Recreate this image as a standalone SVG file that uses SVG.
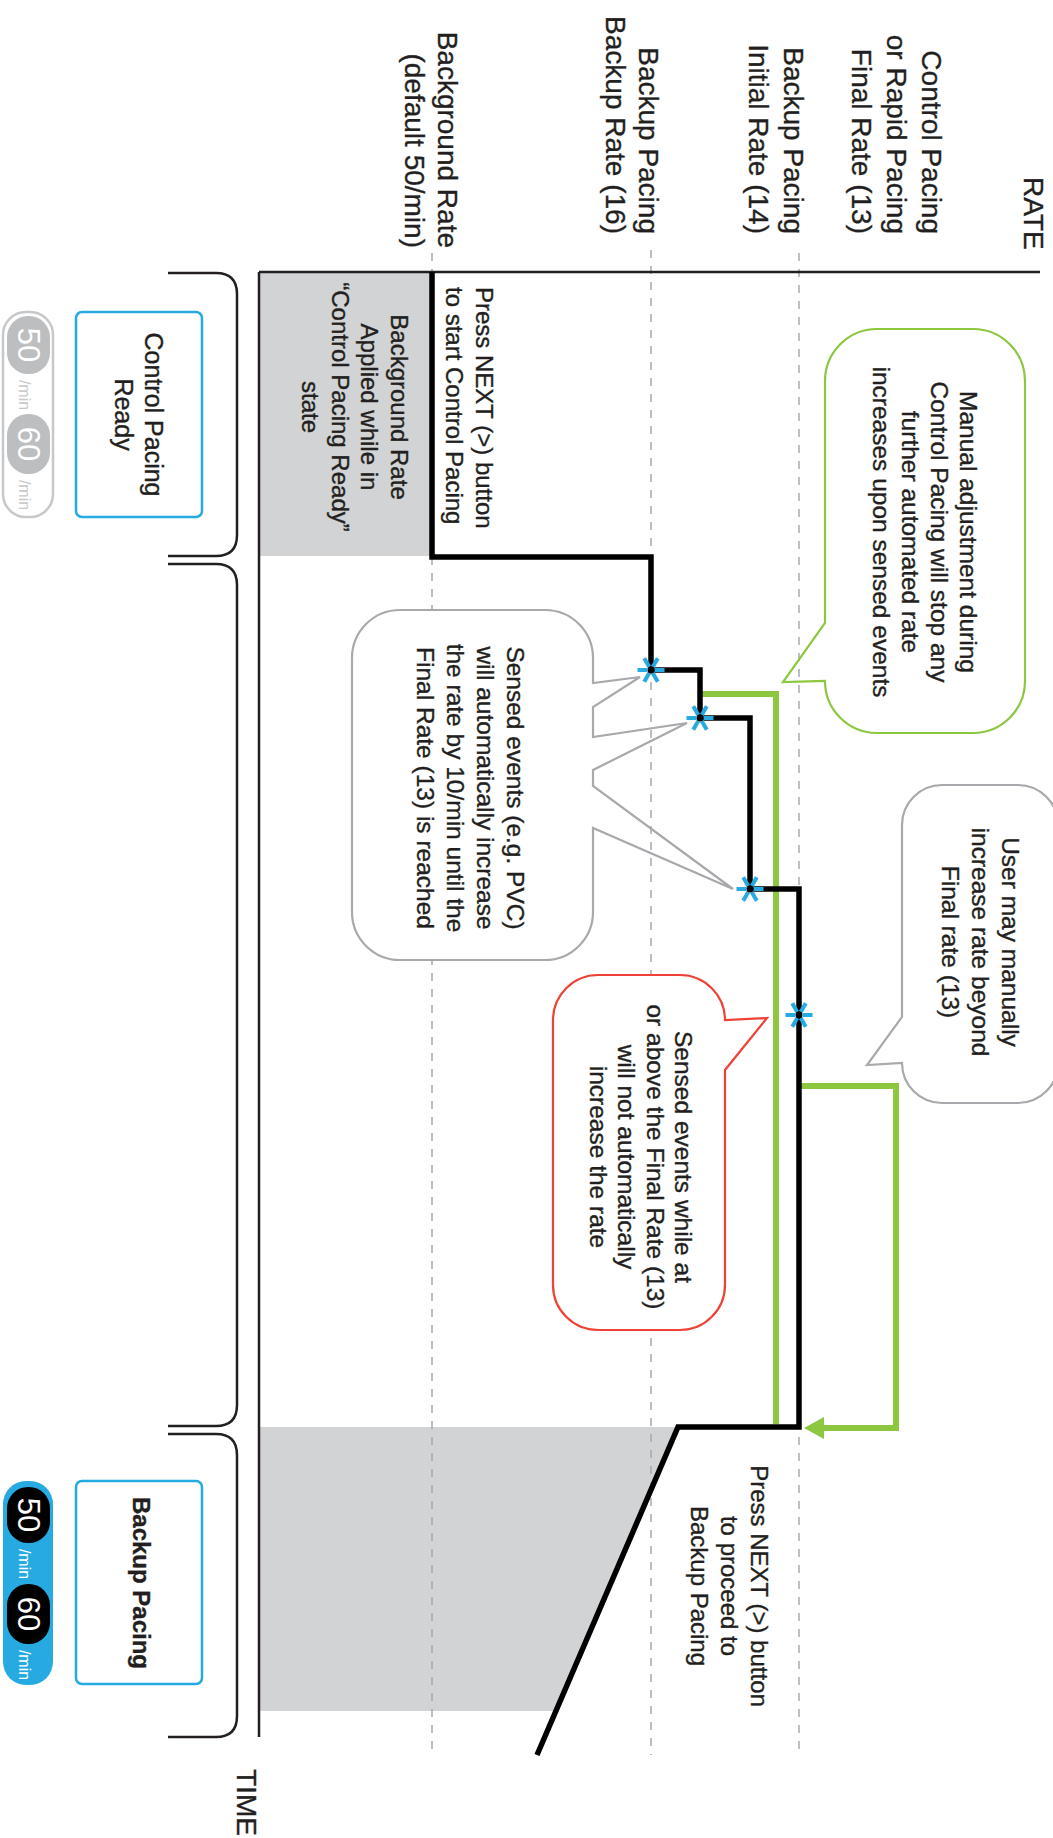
<svg xmlns="http://www.w3.org/2000/svg" width="1053" height="1838" viewBox="0 0 1053 1838">
<style>
text{font-family:"Liberation Sans",Arial,Helvetica,sans-serif;fill:#231f20;stroke:#231f20;stroke-width:0.35}
.lbl{font-size:28px;text-anchor:end}
.ax{font-size:28px}
.bt{font-size:24.5px;text-anchor:middle}
.nt{font-size:24px}
.ntc{font-size:24px;text-anchor:middle}
.box{fill:#fff;stroke:#27aae1;stroke-width:2.5}
.bx{font-size:25px;text-anchor:middle}
.dash{stroke:#a7a9ac;stroke-width:1.5;stroke-dasharray:8 8;fill:none}
.axis{stroke:#231f20;stroke-width:2.5;fill:none}
.brace{stroke:#231f20;stroke-width:2.5;fill:none}
.shade{fill:#d1d3d4}
.rate{stroke:#000;stroke-width:5.5;fill:none;stroke-linejoin:miter}
.grn{stroke:#8dc63f;stroke-width:6;fill:none}
.bfill{fill:#fff}
.dig{font-size:31px;text-anchor:middle;fill:#fff;stroke:none}
.min{font-size:16px;text-anchor:middle;stroke:none}
</style>
<defs>
<g id="star">
<g stroke="#27aae1" stroke-width="4">
<line x1="3.5" y1="0" x2="13.5" y2="0"/>
<line x1="-3.5" y1="0" x2="-13.5" y2="0"/>
<line x1="1.75" y1="3.03" x2="6.75" y2="11.7"/>
<line x1="-1.75" y1="3.03" x2="-6.75" y2="11.7"/>
<line x1="1.75" y1="-3.03" x2="6.75" y2="-11.7"/>
<line x1="-1.75" y1="-3.03" x2="-6.75" y2="-11.7"/>
</g>
<circle r="3.4" fill="#000"/>
</g>
</defs>

<!-- shaded regions -->
<g id="shade-ready"><rect class="shade" x="259" y="273" width="173" height="283"/></g>
<g id="shade-backup"><polygon class="shade" points="259,1427 678,1427 556,1711 259,1711"/></g>

<!-- rate reference dashed lines -->
<g id="gridlines">
<line class="dash" x1="432" y1="253" x2="432" y2="1755"/>
<line class="dash" x1="651" y1="250" x2="651" y2="1755"/>
<line class="dash" x1="799" y1="253" x2="799" y2="1755"/>
</g>

<!-- axes -->
<g id="axes">
<line class="axis" x1="259" y1="272" x2="1040" y2="272"/>
<line class="axis" x1="259" y1="272" x2="259" y2="1737"/>
<g transform="translate(1024,177) rotate(90)"><text class="ax" x="0" y="0">RATE</text></g>
<g transform="translate(237,1769) rotate(90)"><text class="ax" x="0" y="0">TIME</text></g>
</g>

<!-- rate labels -->
<g id="label-final" transform="translate(922,234) rotate(90)">
<text class="lbl" x="0" y="0">Control Pacing</text>
<text class="lbl" x="0" y="35">or Rapid Pacing</text>
<text class="lbl" x="0" y="70">Final Rate (13)</text>
</g>
<g id="label-initial" transform="translate(784,234) rotate(90)">
<text class="lbl" x="0" y="0">Backup Pacing</text>
<text class="lbl" x="0" y="35">Initial Rate (14)</text>
</g>
<g id="label-backup" transform="translate(639,234) rotate(90)">
<text class="lbl" x="0" y="0">Backup Pacing</text>
<text class="lbl" x="0" y="33">Backup Rate (16)</text>
</g>
<g id="label-background" transform="translate(438,248) rotate(90)">
<text class="lbl" x="0" y="0">Background Rate</text>
<text class="lbl" x="0" y="33">(default 50/min)</text>
</g>

<!-- braces -->
<g id="braces">
<path class="brace" d="M168 273 H216 Q237 273 237 294 V535 Q237 556 216 556 H168"/>
<path class="brace" d="M168 564 H216 Q237 564 237 585 V1405 Q237 1426 216 1426 H168"/>
<path class="brace" d="M168 1434 H216 Q237 1434 237 1455 V1716 Q237 1737 216 1737 H168"/>
</g>

<!-- state boxes -->
<g id="state-ready">
<rect class="box" x="76" y="312" width="126" height="205" rx="6"/>
<g transform="translate(145,414.5) rotate(90)">
<text class="bx" x="0" y="0">Control Pacing</text>
<text class="bx" x="0" y="30">Ready</text>
</g>
</g>
<g id="state-backup">
<rect class="box" x="76" y="1481" width="126" height="203" rx="6"/>
<g transform="translate(133,1583) rotate(90)">
<text class="bx" x="0" y="0" style="font-weight:bold;font-size:24px">Backup Pacing</text>
</g>
</g>

<!-- rate pills -->
<g id="pill-ready">
<rect x="3" y="312" width="50" height="205" rx="23" fill="#fff" stroke="#c7c8ca" stroke-width="2.5"/>
<rect x="7" y="316" width="43" height="58" rx="21" fill="#bcbec0"/>
<rect x="7" y="414" width="43" height="60" rx="21" fill="#bcbec0"/>
<g transform="translate(28.5,345) rotate(90)"><text class="dig" x="0" y="11">50</text></g>
<g transform="translate(28.5,444) rotate(90)"><text class="dig" x="0" y="11">60</text></g>
<g transform="translate(19,395) rotate(90)"><text class="min" x="0" y="0" style="fill:#c7c8ca">/min</text></g>
<g transform="translate(19,495) rotate(90)"><text class="min" x="0" y="0" style="fill:#c7c8ca">/min</text></g>
</g>
<g id="pill-backup">
<rect x="3" y="1481" width="50" height="204" rx="23" fill="#27aae1"/>
<rect x="7" y="1487" width="43" height="56" rx="21" fill="#000"/>
<rect x="7" y="1584" width="43" height="60" rx="21" fill="#000"/>
<g transform="translate(28.5,1515) rotate(90)"><text class="dig" x="0" y="11">50</text></g>
<g transform="translate(28.5,1614) rotate(90)"><text class="dig" x="0" y="11">60</text></g>
<g transform="translate(19,1564) rotate(90)"><text class="min" x="0" y="0" style="fill:#fff">/min</text></g>
<g transform="translate(19,1665) rotate(90)"><text class="min" x="0" y="0" style="fill:#fff">/min</text></g>
</g>

<!-- connectors: rate trace and manual adjustment paths -->
<g id="connectors">
<path class="grn" d="M702 694 H776 V1424"/>
<path class="grn" d="M799 1086 H896 V1428 H822"/>
<polygon points="804,1428 824,1417 824,1439" fill="#8dc63f"/>
<path class="rate" d="M432 272 V557 H651 V670 H700 V718 H750 V889 H799 V1427 H678 L537 1755"/>
<use href="#star" x="651" y="670"/>
<use href="#star" x="700" y="718"/>
<use href="#star" x="750" y="889"/>
<use href="#star" x="799" y="1015"/>
</g>

<!-- annotations on the chart -->
<g id="note-start" transform="translate(476,287) rotate(90)">
<text class="nt" x="0" y="0">Press NEXT (&gt;) button</text>
<text class="nt" x="0" y="30">to start Control Pacing</text>
</g>
<g id="note-background" transform="translate(355,407) rotate(90)">
<text class="ntc" x="0" y="-35.6">Background Rate</text>
<text class="ntc" x="0" y="-6.1">Applied while in</text>
<text class="ntc" x="0" y="23.4">“Control Pacing Ready”</text>
<text class="ntc" x="0" y="52.9">state</text>
</g>
<g id="note-proceed" transform="translate(751,1586) rotate(90)">
<text class="ntc" x="0" y="0">Press NEXT (&gt;) button</text>
<text class="ntc" x="0" y="30">to proceed to</text>
<text class="ntc" x="0" y="60">Backup Pacing</text>
</g>

<!-- bubbles -->
<g id="bubble-manual">
<rect class="bfill" x="825" y="329" width="200" height="404" rx="52"/>
<path fill="none" stroke="#8dc63f" stroke-width="2.2" d="M877 329 H973 A52 52 0 0 1 1025 381 V681 A52 52 0 0 1 973 733 H877 A52 52 0 0 1 825 681 L783 682 L825 623 V381 A52 52 0 0 1 877 329 Z"/>
<g transform="translate(925,532) rotate(90)">
<text class="bt" x="0" y="-34.7">Manual adjustment during</text>
<text class="bt" x="0" y="-5.7">Control Pacing will stop any</text>
<text class="bt" x="0" y="23.3">further automated rate</text>
<text class="bt" x="0" y="52.3">increases upon sensed events</text>
</g>
</g>

<g id="bubble-sensed">
<rect class="bfill" x="352" y="610" width="241" height="350" rx="48"/>
<path fill="none" stroke="#a7a9ac" stroke-width="2.2" stroke-linejoin="miter" d="M400 610 H545 A48 48 0 0 1 593 658 V683 L640 677 L593 707 V737 L687 723 L593 770 V786 L733 889 L593 828 V912 A48 48 0 0 1 545 960 H400 A48 48 0 0 1 352 912 V658 A48 48 0 0 1 400 610 Z"/>
<g transform="translate(471,788) rotate(90)">
<text class="bt" x="0" y="-36.2">Sensed events (e.g. PVC)</text>
<text class="bt" x="0" y="-6.2">will automatically increase</text>
<text class="bt" x="0" y="23.8">the rate by 10/min until the</text>
<text class="bt" x="0" y="53.8">Final Rate (13) is reached</text>
</g>
</g>

<g id="bubble-user">
<rect class="bfill" x="902" y="785" width="156" height="318" rx="40"/>
<path fill="none" stroke="#a7a9ac" stroke-width="2.2" d="M942 785 H1018 A40 40 0 0 1 1058 825 V1063 A40 40 0 0 1 1018 1103 H942 A40 40 0 0 1 902 1063 L867 1065 L902 1017 V825 A40 40 0 0 1 942 785 Z"/>
<g transform="translate(981,942) rotate(90)">
<text class="bt" x="0" y="-21.2">User may manually</text>
<text class="bt" x="0" y="8.8">increase rate beyond</text>
<text class="bt" x="0" y="38.8">Final rate (13)</text>
</g>
</g>

<g id="bubble-final">
<rect class="bfill" x="553" y="975" width="172" height="355" rx="45"/>
<path fill="none" stroke="#ef4136" stroke-width="2.2" d="M598 975 H680 A45 45 0 0 1 725 1020 L767 1018 L725 1070 V1285 A45 45 0 0 1 680 1330 H598 A45 45 0 0 1 553 1285 V1020 A45 45 0 0 1 598 975 Z"/>
<g transform="translate(641,1157) rotate(90)">
<text class="bt" x="0" y="-34">Sensed events while at</text>
<text class="bt" x="0" y="-5.5">or above the Final Rate (13)</text>
<text class="bt" x="0" y="23">will not automatically</text>
<text class="bt" x="0" y="51.5">increase the rate</text>
</g>
</g>
</svg>
